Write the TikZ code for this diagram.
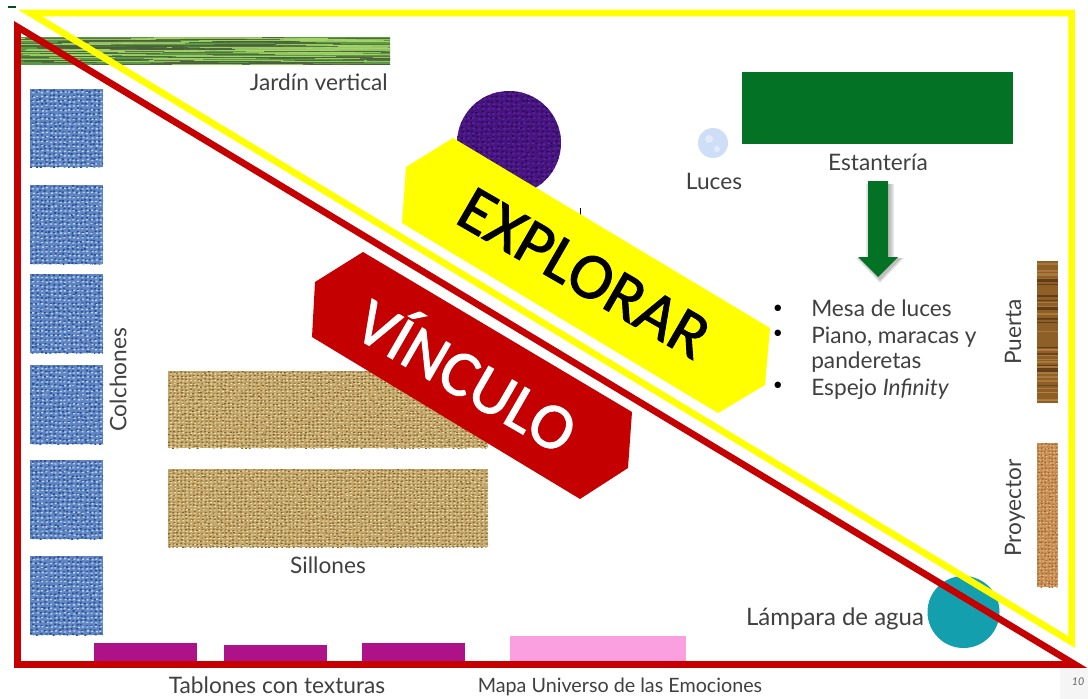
\documentclass[tikz,border=0pt]{standalone}
\usepackage{fontspec}
\setmainfont{Lato}
\newfontfamily\headfont{Carlito}
\newfontfamily\headfontmid[FakeBold=1.4]{Carlito}
\usetikzlibrary{calc}
\definecolor{lineyellow}{HTML}{FFFF00}
\definecolor{linered}{HTML}{C40000}
\definecolor{txt}{HTML}{404040}
\definecolor{shelf}{HTML}{037224}
\definecolor{tablon}{HTML}{AD1289}
\definecolor{mapa}{HTML}{FA9FE0}
\definecolor{teal}{HTML}{149FAE}
\definecolor{blueB}{HTML}{5F85C2}
\definecolor{blueD}{HTML}{2A4F90}
\definecolor{blueL}{HTML}{BDD3F4}
\definecolor{burlB}{HTML}{C4A66A}
\definecolor{burlD}{HTML}{7F6430}
\definecolor{burlL}{HTML}{F0E0B0}
\definecolor{grassB}{HTML}{5A9A42}
\definecolor{grassD}{HTML}{4A5F3A}
\definecolor{grassL}{HTML}{A6D66A}
\definecolor{woodB}{HTML}{8F5F28}
\definecolor{woodD}{HTML}{4F2F10}
\definecolor{woodL}{HTML}{B98A4A}
\definecolor{corkB}{HTML}{C98F55}
\definecolor{corkD}{HTML}{9A6430}
\definecolor{corkL}{HTML}{E6BC8C}
\definecolor{purpB}{HTML}{47157F}
\definecolor{purpD}{HTML}{2F0C5A}
\definecolor{purpL}{HTML}{5F22A0}
\tikzset{
  lab/.style={text=txt,font=\fontsize{17pt}{20pt}\selectfont,inner sep=0pt},
  dot/.style={text=black,font=\fontsize{13pt}{14pt}\selectfont,inner sep=0pt},
  frame/.style={line width=5pt,line join=miter,miter limit=20},
  banner/.style={inner sep=0pt,rotate=-30}
}
% x0 y0 x1 y1 base dark light stepx stepy
\newcommand{\texrect}[9]{%
  \begin{scope}
    \clip (#1,#2) rectangle (#3,#4);
    \fill[#5] (#1,#2) rectangle (#3,#4);
    \pgfmathtruncatemacro{\nx}{(#3-#1)/#8}
    \pgfmathtruncatemacro{\ny}{(#4-#2)/#9}
    \foreach \j in {0,...,\ny}{
      \fill[#6] foreach \i in {0,...,\nx}{
        ({#1+\i*#8+rnd*#8*0.5},{#2+\j*#9+rnd*#9*0.5}) rectangle +(#8*0.45,#9*0.35)};
      \fill[#7] foreach \i in {0,...,\nx}{
        ({#1+\i*#8+#8*0.4+rnd*#8*0.3},{#2+\j*#9+#9*0.45+rnd*#9*0.3}) rectangle +(#8*0.45,#9*0.3)};
    }
  \end{scope}}
% streaks: x0 y0 x1 y1 base dark light count
\newcommand{\streaks}[8]{%
  \begin{scope}
    \clip (#1,#2) rectangle (#3,#4);
    \fill[#5] (#1,#2) rectangle (#3,#4);
    \foreach \k in {1,...,#8}{
      \pgfmathsetmacro{\sx}{#1-20+rnd*(#3-#1)}
      \pgfmathsetmacro{\sy}{#2+rnd*(#4-#2)}
      \pgfmathsetmacro{\sl}{(#3-#1)*(0.1+rnd*0.3)}
      \pgfmathsetmacro{\sc}{rnd}
      \ifdim\sc pt<0.5pt
        \fill[#6,opacity=.8] (\sx,\sy) rectangle +(\sl,1);
      \else
        \fill[#7,opacity=.8] (\sx,\sy) rectangle +(\sl,.8);
      \fi
    }
  \end{scope}}
\begin{document}
\begin{tikzpicture}[x=0.75pt,y=-0.75pt]
\pgfmathsetseed{42}
\useasboundingbox (0,0) rectangle (1088,699);
\fill[white] (0,0) rectangle (1088,699);
% footer
\fill[black!4] (1060,667) rectangle (1088,699);
\node[inner sep=0pt,text=black!60,font=\fontsize{8pt}{9pt}\selectfont\itshape] (page) at (1078,682) {10};
\fill[shelf!70!black] (8,6.5) rectangle (16,8);
% garden
\streaks{20}{37}{390}{65}{grassB}{grassD}{grassL}{220}
% mattresses
\foreach \ya/\yb in {89/167,185/264,274/353,365/444,460/539,556/635}{
  \texrect{30}{\ya}{103}{\yb}{blueB}{blueD}{blueL}{4.5}{4.5}
}
% sofas
\texrect{168}{371}{488}{448}{burlB}{burlD}{burlL}{4}{3.5}
\texrect{168}{469}{488}{547}{burlB}{burlD}{burlL}{4}{3.5}
% purple circle
\begin{scope}
  \clip (509,143) circle (52);
  \texrect{455}{90}{563}{197}{purpB}{purpD}{purpL}{5}{5}
\end{scope}
% lights
\fill[blueL!75!white] (713,143) circle (15);
\fill[white,opacity=.4] (709,139) circle (4) (717,149) circle (3);
% shelf
\fill[shelf] (742,72) rectangle (1013,144);
% arrow with soft shadow
\foreach \g in {4,2.5,1}{
  \fill[black,opacity=.09] (870-\g,184) -- (890+\g,184) -- (890+\g,258) -- (900+\g,258) -- (880,279+\g) -- (860-\g,258) -- (870-\g,258) -- cycle;
}
\fill[shelf] (868,181) -- (888,181) -- (888,257) -- (898,257) -- (878,277) -- (858,257) -- (868,257) -- cycle;
% door
\begin{scope}
  \fill[woodB] (1037,261) rectangle (1058,403);
  \foreach \k in {1,...,46}{
    \pgfmathsetmacro{\sy}{261+rnd*140}
    \pgfmathsetmacro{\sc}{rnd}
    \ifdim\sc pt<0.5pt
      \fill[woodD,opacity=.7] (1037,\sy) rectangle (1058,\sy+1.4);
    \else
      \fill[woodL,opacity=.6] (1037,\sy) rectangle (1058,\sy+1.4);
    \fi
  }
\end{scope}
% projector
\texrect{1037}{443}{1058}{587}{corkB}{corkD}{corkL}{3.5}{3.5}
% lamp
\fill[teal] (963.5,612) circle (36);
% boards
\fill[tablon] (94,643) rectangle (197,664);
\fill[tablon] (224,645) rectangle (327,664);
\fill[tablon] (362,643) rectangle (465,664);
\fill[mapa] (510,636) rectangle (686,664);
% tick
\fill[black] (579.5,208) rectangle (581,216);
% triangles
\draw[frame,lineyellow] (1071.6,13) -- (1071.6,642) -- (30,13) -- cycle;
\draw[frame,linered] (17.5,664.5) -- (1075,664.5) -- (17.5,27) -- cycle;
% banners
\fill[lineyellow] (453,138) -- (770,328) -- (765,385) -- (718,413) -- (402,223) -- (406,167) -- cycle;
\fill[linered] (363,252) -- (632,412) -- (628,468) -- (580,499) -- (312,337) -- (315,282) -- cycle;
\node[banner,text=black,font=\headfontmid\fontsize{49pt}{52pt}\selectfont] (explorar) at (584,273) {EXPLORAR};
\node[banner,text=white,font=\headfontmid\fontsize{49pt}{52pt}\selectfont] (vinculo) at (469,372) {VÍNCULO};
% labels
\node[lab,anchor=east] (jardin) at (388,82) {Jardín vertical};
\node[lab] (luces) at (714,181) {Luces};
\node[lab] (estanteria) at (878,162) {Estantería};
\node[lab,rotate=90] (colchones) at (118,380) {Colchones};
\node[lab,rotate=90] (puerta) at (1013,332) {Puerta};
\node[lab,rotate=90] (proyector) at (1015,508) {Proyector};
\node[lab] (sillones) at (328,565) {Sillones};
\node[lab,font=\fontsize{18pt}{20pt}\selectfont] (lampara) at (835,619) {Lámpara de agua};
\node[lab] (tablones) at (277,685) {Tablones con texturas};
\node[lab,font=\fontsize{14.8pt}{17pt}\selectfont] (mapalab) at (620,687) {Mapa Universo de las Emociones};
\node[dot] (b1) at (778,309) {•};
\node[dot] (b2) at (778,334) {•};
\node[dot] (b3) at (778,386) {•};
\node[lab,anchor=base west] (i1) at (811,316) {Mesa de luces};
\node[lab,anchor=base west] (i2) at (811,343) {Piano, maracas y};
\node[lab,anchor=base west] (i3) at (811,368) {panderetas};
\node[lab,anchor=base west] (i4) at (811,395) {Espejo \textit{Infinity}};
\end{tikzpicture}
\end{document}
